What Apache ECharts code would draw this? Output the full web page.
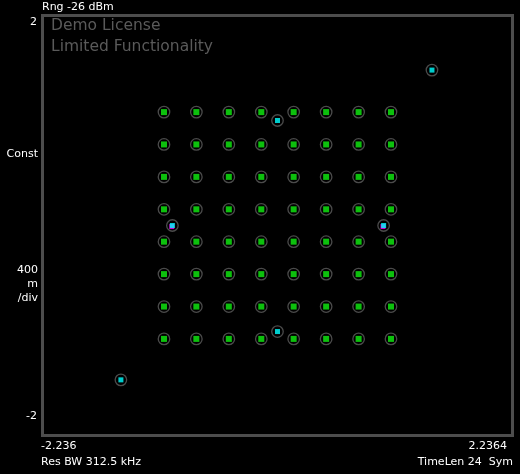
<!DOCTYPE html>
<html>
<head>
<meta charset="utf-8">
<script src="https://cdn.jsdelivr.net/npm/echarts@6/dist/echarts.min.js"></script>
<style>
html,body{margin:0;padding:0;background:#000;}
#c{width:520px;height:474px;}
</style>
</head>
<body>
<div id="c"></div>
<script>
// ---- data ----
const levels = [-1.08, -0.772, -0.463, -0.154, 0.154, 0.463, 0.772, 1.08];
const cyanI = [1.47, -1.49, 0.0, 0.0, -1.0, 1.01];
const cyanQ = [1.48, -1.47, 1.0, -1.01, 0.0, 0.0];
const magentaI = [-1.006, 1.004];
const magentaQ = [-0.01, -0.01];
const xMin = -2.236, xMax = 2.2364;
const yMin = -2, yMax = 2;
const xTickLabels = ['-2.236', '2.2364'];
const yTickLabels = ['2', '-2'];
const topLabel = 'Rng -26 dBm';
const unitLabels = ['Const', '400', 'm', '/div'];
const bottomLeft = 'Res BW 312.5 kHz';
const bottomRight = 'TimeLen 24  Sym';
const watermark = ['Demo License', 'Limited Functionality'];

// ---- build ----
const greenPts = [];
levels.forEach(q => levels.forEach(i => greenPts.push([i, q])));
const cyanPts = cyanI.map((v, k) => [v, cyanQ[k]]);
const magPts = magentaI.map((v, k) => [v, magentaQ[k]]);
const ringPts = greenPts.concat(cyanPts);

const font = 'DejaVu Sans';
function txt(x, y, s, align, color, size) {
  return {type: 'text', x: x, y: y, style: {text: s, fill: color || '#fff', font: (size || 11) + 'px "' + font + '"', textAlign: align || 'left', textVerticalAlign: 'middle'}, z: 10};
}

const chart = echarts.init(document.getElementById('c'), null, {renderer: 'canvas'});
chart.setOption({
  backgroundColor: '#000',
  animation: false,
  grid: {left: 42.5, top: 15.5, width: 470, height: 420, show: true, borderColor: '#4d4d4d', borderWidth: 3, backgroundColor: 'transparent'},
  xAxis: {type: 'value', min: xMin, max: xMax, show: false, splitLine: {show: false}},
  yAxis: {type: 'value', min: yMin, max: yMax, show: false, splitLine: {show: false}},
  series: [
    {type: 'scatter', data: ringPts, symbol: 'circle', symbolSize: 11.5,
     itemStyle: {color: 'rgba(0,0,0,0)', borderColor: '#5e5e5e', borderWidth: 1.3}, z: 1},
    {type: 'scatter', data: greenPts, symbol: 'rect', symbolSize: 6,
     itemStyle: {color: '#10f010'}, z: 2},
    {type: 'scatter', data: magPts, symbol: 'rect', symbolSize: 5,
     itemStyle: {color: '#ff00ff'}, z: 3},
    {type: 'scatter', data: cyanPts, symbol: 'rect', symbolSize: 5,
     itemStyle: {color: '#00ffff'}, z: 4}
  ],
  graphic: [
    txt(42, 7, topLabel),
    txt(37, 22, yTickLabels[0], 'right'),
    txt(37, 416, yTickLabels[1], 'right'),
    txt(38, 154, unitLabels[0], 'right'),
    txt(38, 270, unitLabels[1], 'right'),
    txt(38, 284, unitLabels[2], 'right'),
    txt(38, 298, unitLabels[3], 'right'),
    txt(41, 446, xTickLabels[0], 'left'),
    txt(507, 446, xTickLabels[1], 'right'),
    txt(41, 462, bottomLeft, 'left'),
    txt(513, 462, bottomRight, 'right'),
    txt(51, 26, watermark[0], 'left', '#5a5a5a', 15.5),
    txt(51, 47, watermark[1], 'left', '#5a5a5a', 15.5)
  ]
});
</script>
</body>
</html>
